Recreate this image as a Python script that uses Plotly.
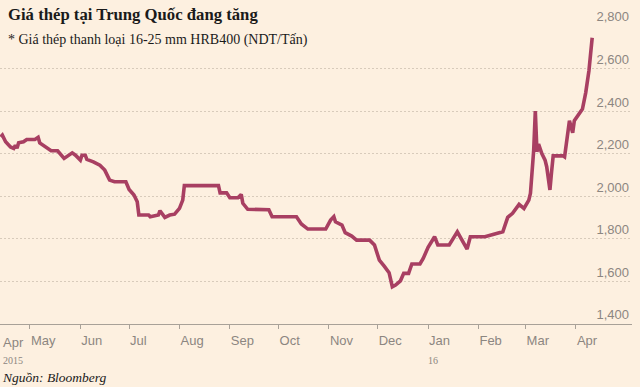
import plotly.graph_objects as go

dates = [
    "2015-04-13", "2015-04-14", "2015-04-16", "2015-04-19", "2015-04-21", "2015-04-22",
    "2015-04-23", "2015-04-24", "2015-04-27", "2015-04-29", "2015-05-04", "2015-05-06",
    "2015-05-07", "2015-05-10", "2015-05-14", "2015-05-18", "2015-05-22", "2015-05-27",
    "2015-05-29", "2015-06-01", "2015-06-02", "2015-06-04", "2015-06-05", "2015-06-09",
    "2015-06-13", "2015-06-16", "2015-06-19", "2015-06-22", "2015-06-29", "2015-07-01",
    "2015-07-04", "2015-07-06", "2015-07-07", "2015-07-13", "2015-07-14", "2015-07-19",
    "2015-07-20", "2015-07-23", "2015-07-26", "2015-07-29", "2015-08-01", "2015-08-03",
    "2015-08-04", "2015-08-25", "2015-08-26", "2015-08-30", "2015-09-01", "2015-09-06",
    "2015-09-08", "2015-09-09", "2015-09-12", "2015-09-25", "2015-09-27", "2015-10-12",
    "2015-10-15", "2015-10-19", "2015-10-30", "2015-11-02", "2015-11-04", "2015-11-05",
    "2015-11-09", "2015-11-11", "2015-11-15", "2015-11-18", "2015-11-26", "2015-11-29",
    "2015-12-02", "2015-12-05", "2015-12-08", "2015-12-10", "2015-12-12", "2015-12-15",
    "2015-12-17", "2015-12-20", "2015-12-22", "2015-12-27", "2015-12-29", "2016-01-01",
    "2016-01-05", "2016-01-07", "2016-01-14", "2016-01-19", "2016-01-22", "2016-01-25",
    "2016-01-27", "2016-02-05", "2016-02-11", "2016-02-16", "2016-02-19", "2016-02-22",
    "2016-02-26", "2016-02-29", "2016-03-03", "2016-03-04", "2016-03-06", "2016-03-07",
    "2016-03-08", "2016-03-09", "2016-03-11", "2016-03-13", "2016-03-14", "2016-03-16",
    "2016-03-17", "2016-03-18", "2016-03-24", "2016-03-25", "2016-03-28", "2016-03-30",
    "2016-03-31", "2016-04-03", "2016-04-05", "2016-04-07", "2016-04-09", "2016-04-11",
]
prices = [
    2279, 2287, 2256, 2232, 2225, 2240,
    2226, 2251, 2256, 2267, 2267, 2277,
    2251, 2236, 2214, 2214, 2178, 2204,
    2193, 2170, 2193, 2193, 2173, 2162,
    2146, 2123, 2076, 2068, 2068, 2032,
    2006, 1974, 1912, 1912, 1904, 1912,
    1932, 1901, 1912, 1916, 1943, 1982,
    2050, 2050, 2016, 2016, 1993, 1993,
    2009, 1967, 1939, 1937, 1904, 1904,
    1870, 1846, 1846, 1888, 1904, 1880,
    1865, 1829, 1813, 1794, 1794, 1771,
    1700, 1672, 1641, 1575, 1583, 1603,
    1638, 1638, 1682, 1682, 1708, 1760,
    1810, 1771, 1771, 1833, 1794, 1752,
    1810, 1810, 1823, 1833, 1901, 1920,
    1962, 1943, 1982, 2014, 2217, 2400,
    2209, 2245, 2201, 2170, 2139, 2030,
    2115, 2190, 2190, 2185, 2355, 2298,
    2355, 2390, 2410, 2486, 2590, 2745,
]

month_ticks = ["2015-05-01", "2015-06-01", "2015-07-01", "2015-08-01", "2015-09-01",
               "2015-10-01", "2015-11-01", "2015-12-01", "2016-01-01", "2016-02-01",
               "2016-03-01", "2016-04-01"]
month_labels = ["May", "Jun", "Jul", "Aug", "Sep", "Oct", "Nov", "Dec", "Jan", "Feb",
                "Mar", "Apr"]
y_ticks = [1400, 1600, 1800, 2000, 2200, 2400, 2600, 2800]
y_labels = ["1,400", "1,600", "1,800", "2,000", "2,200", "2,400", "2,600", "2,800"]

title = "Giá thép tại Trung Quốc đang tăng"
subtitle = "* Giá thép thanh loại 16-25 mm HRB400 (NDT/Tấn)"
source = "Nguồn: Bloomberg"

BG = "#fdf0e0"
GRAY = "#8c8680"
SERIF = "Liberation Serif, Times New Roman, serif"
SANS = "Liberation Sans, Arial, sans-serif"

fig = go.Figure()
fig.add_trace(go.Scatter(
    x=dates, y=prices, mode="lines",
    line=dict(color="#a83f62", width=3.6, shape="linear"),
    hoverinfo="skip", showlegend=False,
))

fig.update_layout(
    width=640, height=387,
    margin=dict(l=0, r=8, t=26, b=63),
    paper_bgcolor=BG, plot_bgcolor=BG,
    xaxis=dict(
        range=["2015-04-12 13:00", "2016-05-05 12:00"],
        tickmode="array", tickvals=month_ticks, ticktext=month_labels,
        ticklabelposition="outside right", ticklabelstandoff=4,
        ticks="outside", ticklen=4, tickcolor="#a8a198", tickwidth=1,
        showline=True, linecolor="#a8a198", linewidth=1,
        showgrid=False, zeroline=False,
        tickfont=dict(family=SANS, size=13, color=GRAY),
        fixedrange=True, automargin=False,
    ),
    yaxis=dict(
        range=[1400, 2800], side="right",
        tickmode="array", tickvals=y_ticks, ticktext=y_labels,
        ticklabelposition="inside top", ticklabeloverflow="allow",
        ticks="", showline=False, zeroline=False,
        showgrid=True, gridcolor="#d8cbbb", griddash="1.5px,2.5px", gridwidth=1,
        tickfont=dict(family=SANS, size=13, color=GRAY),
        fixedrange=True, automargin=False,
    ),
)

annotations = [
    dict(text="<b>" + title + "</b>", x=6 / 632, xref="paper", y=1.037, yref="paper",
         xanchor="left", yanchor="middle", showarrow=False,
         font=dict(family=SERIF, size=16.7, color="#1a1a1a")),
    dict(text=subtitle, x=6 / 632, xref="paper", y=0.953, yref="paper",
         xanchor="left", yanchor="middle", showarrow=False,
         font=dict(family=SERIF, size=14, color="#1a1a1a")),
    dict(text="<i>" + source + "</i>", x=0, xref="paper", y=-0.178, yref="paper",
         xanchor="left", yanchor="middle", showarrow=False,
         font=dict(family=SERIF, size=13.5, color="#1a1a1a")),
    dict(text="Apr", x=0.002, xref="paper", y=-0.063, yref="paper", xanchor="left",
         yanchor="middle", showarrow=False, font=dict(family=SANS, size=13, color=GRAY)),
    dict(text="2015", x=0.002, xref="paper", y=-0.124, yref="paper", xanchor="left",
         yanchor="middle", showarrow=False, font=dict(family=SERIF, size=10, color=GRAY)),
    dict(text="16", x="2016-01-01", xref="x", y=-0.124, yref="paper", xanchor="left",
         yanchor="middle", showarrow=False, xshift=-2,
         font=dict(family=SERIF, size=10, color=GRAY)),
]
fig.update_layout(annotations=annotations)

fig.write_html("out.html", config={"displayModeBar": False, "staticPlot": True},
               post_script="document.body.style.margin='0';")
